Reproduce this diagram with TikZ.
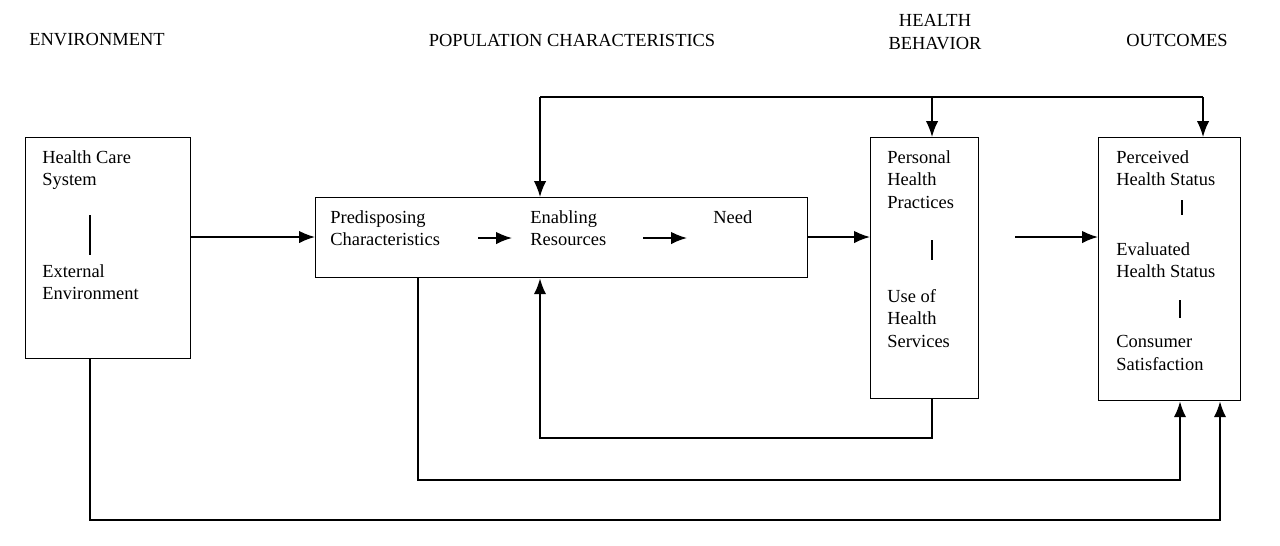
\documentclass[tikz,border=0pt]{standalone}
\usepackage{fontspec}
\usetikzlibrary{arrows.meta}
\setmainfont{Liberation Serif}
\begin{document}
\begin{tikzpicture}[x=0.02cm,y=-0.02cm,
  box/.style={draw,line width=0.8pt},
  txt/.style={anchor=north west,align=left,inner sep=0,font=\fontsize{10.5}{12.8}\selectfont},
  hd/.style={inner sep=0,align=center,font=\fontsize{10.5}{12.8}\selectfont},
  arr/.style={-{Latex[length=9pt,width=7pt]},line width=0.9pt},
  ln/.style={line width=0.8pt}]
\useasboundingbox (0,0) rectangle (1280,545);
\node[hd] (h1) at (97,40) {ENVIRONMENT};
\node[hd] (h2) at (572,40) {POPULATION CHARACTERISTICS};
\node[hd] (h3) at (935,32) {HEALTH\\BEHAVIOR};
\node[hd] (h4) at (1177,40) {OUTCOMES};
\node[box,minimum width=165*0.02cm,minimum height=221*0.02cm,anchor=north west] (env) at (25,137) {};
\node[box,minimum width=492*0.02cm,minimum height=80*0.02cm,anchor=north west] (pop) at (315,197) {};
\node[box,minimum width=108*0.02cm,minimum height=261*0.02cm,anchor=north west] (hb) at (870,137) {};
\node[box,minimum width=142*0.02cm,minimum height=263*0.02cm,anchor=north west] (out) at (1098,137) {};
% env
\node[txt] (t1) at (42,150) {Health Care\\System};
\node[txt] (t2) at (42,264) {External\\Environment};
\draw[ln] (90,215) -- (90,255);
% pop
\node[txt] (p1) at (330,210) {Predisposing\\Characteristics};
\node[txt] (p2) at (530,210) {Enabling\\Resources};
\node[txt] (p3) at (713,210) {Need};
\coordinate (a1) at (478,238); \coordinate (a2) at (512,238);
\coordinate (a3) at (643,238); \coordinate (a4) at (687,238);
\draw[arr] (a1) -- (a2); \draw[arr] (a3) -- (a4);
% hb
\node[txt] (b1) at (887,150) {Personal\\Health\\Practices};
\node[txt] (b2) at (887,289) {Use of\\Health\\Services};
\draw[ln] (932,240) -- (932,260);
% out
\node[txt] (o1) at (1116,150) {Perceived\\Health Status};
\node[txt] (o2) at (1116,242) {Evaluated\\Health Status};
\node[txt] (o3) at (1116,335) {Consumer\\Satisfaction};
\draw[ln] (1182,200) -- (1182,215);
\draw[line width=1.6pt] (1180,300) -- (1180,318);
% main arrows
\draw[arr] (env.east |- 0,237) -- (pop.west |- 0,237);
\draw[arr] (pop.east |- 0,237) -- (hb.west |- 0,237);
\coordinate (s1) at (1015,237);
\draw[arr] (s1) -- (out.west |- s1);
% top feedback
\coordinate (c1) at (540,97); \coordinate (c2) at (932,97); \coordinate (c3) at (1203,97);
\draw[ln] (c1) -- (c3);
\draw[arr] (c1) -- (pop.north -| c1);
\draw[arr] (c2) -- (hb.north -| c2);
\draw[arr] (c3) -- (out.north -| c3);
% bottom loops
\draw[arr] (hb.south -| 932,0) -- (932,438) -- (540,438) -- (pop.south -| 540,0);
\draw[arr] (pop.south -| 418,0) -- (418,480) -- (1180,480) -- (out.south -| 1180,0);
\draw[arr] (env.south -| 90,0) -- (90,520) -- (1220,520) -- (out.south -| 1220,0);
\end{tikzpicture}
\end{document}
